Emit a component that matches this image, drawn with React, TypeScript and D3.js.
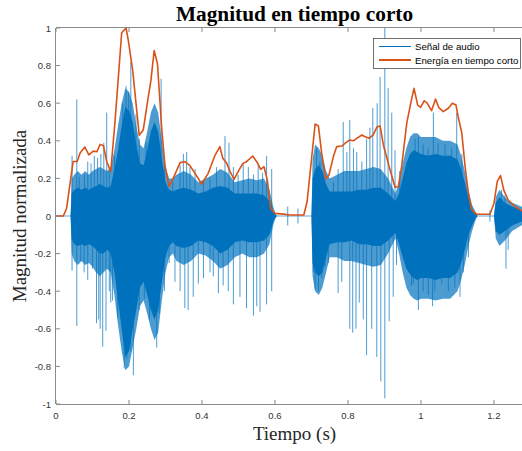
import React from "react";
import * as d3 from "d3";

const title = "Magnitud en tiempo corto";
const xLabel = "Tiempo (s)";
const yLabel = "Magnitud normalizada";
const legendLabels = ["Señal de audio", "Energía en tiempo corto"];
const xTicks = [0, 0.2, 0.4, 0.6, 0.8, 1, 1.2];
const yTicks = [-1, -0.8, -0.6, -0.4, -0.2, 0, 0.2, 0.4, 0.6, 0.8, 1];
const xMax = 1.307;

// Envelope sample times of the audio signal
const envT = [0, 0.04, 0.043, 0.05, 0.06, 0.07, 0.08, 0.09, 0.1, 0.11, 0.12, 0.13, 0.14, 0.15, 0.16, 0.17, 0.18, 0.19, 0.2, 0.21, 0.22, 0.23, 0.24, 0.25, 0.26, 0.27, 0.28, 0.29, 0.3, 0.31, 0.32, 0.33, 0.35, 0.37, 0.39, 0.41, 0.43, 0.45, 0.47, 0.49, 0.51, 0.53, 0.55, 0.57, 0.585, 0.595, 0.6, 0.605, 0.7, 0.703, 0.71, 0.72, 0.73, 0.74, 0.75, 0.77, 0.79, 0.81, 0.83, 0.85, 0.87, 0.89, 0.91, 0.93, 0.94, 0.95, 0.96, 0.97, 0.98, 0.99, 1.0, 1.02, 1.04, 1.06, 1.08, 1.1, 1.11, 1.12, 1.13, 1.14, 1.15, 1.155, 1.2, 1.205, 1.215, 1.23, 1.25, 1.275, 1.307];
// Dense core envelope
const envUp = [0, 0, 0.12, 0.14, 0.15, 0.14, 0.15, 0.14, 0.15, 0.16, 0.17, 0.16, 0.15, 0.16, 0.25, 0.35, 0.48, 0.58, 0.56, 0.5, 0.38, 0.28, 0.27, 0.35, 0.45, 0.5, 0.45, 0.3, 0.18, 0.14, 0.13, 0.14, 0.15, 0.14, 0.12, 0.13, 0.15, 0.16, 0.15, 0.12, 0.12, 0.12, 0.12, 0.11, 0.08, 0.03, 0.01, 0, 0, 0.2, 0.25, 0.27, 0.24, 0.17, 0.13, 0.13, 0.13, 0.13, 0.14, 0.14, 0.15, 0.15, 0.12, 0.08, 0.12, 0.2, 0.28, 0.33, 0.35, 0.34, 0.33, 0.32, 0.33, 0.32, 0.32, 0.3, 0.25, 0.18, 0.1, 0.04, 0.01, 0, 0, 0.07, 0.1, 0.07, 0.05, 0.03, 0.02];
const envLo = [0, 0, -0.12, -0.15, -0.16, -0.15, -0.16, -0.15, -0.16, -0.18, -0.2, -0.2, -0.18, -0.2, -0.3, -0.45, -0.6, -0.75, -0.72, -0.6, -0.5, -0.38, -0.35, -0.42, -0.5, -0.55, -0.5, -0.35, -0.22, -0.16, -0.14, -0.16, -0.17, -0.16, -0.13, -0.14, -0.16, -0.2, -0.18, -0.14, -0.13, -0.14, -0.14, -0.13, -0.1, -0.03, -0.01, 0, 0, -0.25, -0.3, -0.32, -0.3, -0.22, -0.15, -0.14, -0.14, -0.13, -0.15, -0.15, -0.16, -0.16, -0.13, -0.09, -0.15, -0.22, -0.28, -0.31, -0.33, -0.34, -0.33, -0.33, -0.34, -0.33, -0.33, -0.3, -0.25, -0.18, -0.1, -0.05, -0.01, 0, 0, -0.08, -0.1, -0.08, -0.05, -0.03, -0.02];
// Outer (lighter, textured) envelope
const fringeUp = [0, 0, 0.2, 0.22, 0.24, 0.22, 0.24, 0.22, 0.24, 0.25, 0.26, 0.25, 0.24, 0.26, 0.35, 0.48, 0.6, 0.68, 0.66, 0.6, 0.48, 0.38, 0.36, 0.45, 0.55, 0.6, 0.55, 0.4, 0.26, 0.2, 0.2, 0.22, 0.24, 0.22, 0.18, 0.2, 0.22, 0.25, 0.23, 0.18, 0.19, 0.2, 0.19, 0.2, 0.14, 0.05, 0.02, 0, 0, 0.3, 0.38, 0.36, 0.32, 0.24, 0.2, 0.22, 0.24, 0.24, 0.24, 0.25, 0.26, 0.25, 0.2, 0.12, 0.18, 0.28, 0.36, 0.42, 0.44, 0.44, 0.42, 0.42, 0.42, 0.4, 0.4, 0.38, 0.32, 0.24, 0.14, 0.06, 0.02, 0, 0, 0.1, 0.14, 0.1, 0.07, 0.05, 0.03];
const fringeLo = [0, 0, -0.2, -0.24, -0.26, -0.24, -0.26, -0.25, -0.27, -0.3, -0.32, -0.3, -0.28, -0.3, -0.42, -0.58, -0.72, -0.82, -0.8, -0.7, -0.6, -0.48, -0.45, -0.52, -0.6, -0.66, -0.62, -0.45, -0.3, -0.22, -0.2, -0.24, -0.26, -0.24, -0.2, -0.21, -0.24, -0.28, -0.26, -0.22, -0.2, -0.22, -0.22, -0.2, -0.15, -0.05, -0.02, 0, 0, -0.32, -0.4, -0.42, -0.38, -0.3, -0.22, -0.22, -0.24, -0.24, -0.25, -0.26, -0.27, -0.26, -0.2, -0.12, -0.2, -0.3, -0.38, -0.42, -0.44, -0.45, -0.44, -0.44, -0.45, -0.44, -0.44, -0.4, -0.34, -0.26, -0.16, -0.08, -0.02, 0, 0, -0.12, -0.16, -0.13, -0.08, -0.05, -0.03];

// Isolated peaks of the audio signal
const spikeUpT = [0.044, 0.057, 0.064, 0.078, 0.087, 0.096, 0.105, 0.114, 0.123, 0.131, 0.139, 0.146, 0.16, 0.183, 0.192, 0.199, 0.205, 0.219, 0.228, 0.247, 0.26, 0.274, 0.288, 0.297, 0.32, 0.34, 0.349, 0.358, 0.367, 0.381, 0.404, 0.422, 0.44, 0.463, 0.474, 0.486, 0.499, 0.513, 0.527, 0.541, 0.554, 0.566, 0.577, 0.591, 0.635, 0.663, 0.714, 0.723, 0.732, 0.76, 0.773, 0.787, 0.797, 0.805, 0.815, 0.824, 0.838, 0.851, 0.86, 0.868, 0.88, 0.888, 0.901, 0.91, 0.92, 0.929, 0.942, 0.97, 0.984, 0.993, 1.006, 1.02, 1.034, 1.047, 1.066, 1.084, 1.098, 1.112, 1.189, 1.221, 1.23];
const spikeUpV = [0.32, 0.62, 0.21, 0.22, 0.29, 0.28, 0.32, 0.31, 0.33, 0.39, 0.55, 0.24, 0.32, 0.6, 0.69, 0.66, 0.82, 0.54, 0.41, 0.39, 0.42, 0.47, 0.73, 0.3, 0.18, 0.27, 0.33, 0.34, 0.26, 0.25, 0.19, 0.2, 0.26, 0.425, 0.39, 0.26, 0.22, 0.28, 0.26, 0.22, 0.27, 0.23, 0.32, 0.25, 0.05, 0.04, 0.36, 0.29, 0.22, 0.18, 0.25, 0.5, 0.34, 0.51, 0.36, 0.34, 0.29, 0.41, 0.47, 0.575, 0.6, 0.74, 1.0, 0.68, 0.55, 0.35, 0.24, 0.29, 0.41, 0.42, 0.38, 0.36, 0.55, 0.39, 0.38, 0.36, 0.55, 0.33, 0.03, 0.14, 0.11];
const spikeDownT = [0.044, 0.057, 0.068, 0.077, 0.087, 0.1, 0.111, 0.117, 0.121, 0.128, 0.137, 0.146, 0.15, 0.155, 0.169, 0.187, 0.194, 0.205, 0.212, 0.228, 0.242, 0.256, 0.276, 0.283, 0.297, 0.31, 0.326, 0.34, 0.353, 0.362, 0.376, 0.39, 0.404, 0.422, 0.431, 0.445, 0.458, 0.472, 0.486, 0.504, 0.522, 0.541, 0.55, 0.559, 0.577, 0.591, 0.635, 0.663, 0.705, 0.71, 0.719, 0.728, 0.737, 0.746, 0.773, 0.783, 0.805, 0.813, 0.822, 0.831, 0.842, 0.851, 0.865, 0.879, 0.89, 0.901, 0.913, 0.924, 0.933, 0.965, 0.974, 0.979, 0.993, 1.006, 1.02, 1.032, 1.038, 1.057, 1.075, 1.093, 1.107, 1.116, 1.13, 1.189, 1.233, 1.239];
const spikeDownV = [-0.29, -0.585, -0.24, -0.3, -0.34, -0.28, -0.57, -0.55, -0.6, -0.695, -0.61, -0.4, -0.46, -0.45, -0.54, -0.81, -0.76, -0.72, -0.846, -0.5, -0.44, -0.55, -0.7, -0.52, -0.4, -0.25, -0.35, -0.4, -0.49, -0.5, -0.43, -0.36, -0.33, -0.3, -0.32, -0.41, -0.37, -0.4, -0.47, -0.43, -0.49, -0.53, -0.48, -0.51, -0.47, -0.4, -0.05, -0.04, -0.3, -0.39, -0.4, -0.33, -0.27, -0.25, -0.41, -0.35, -0.6, -0.62, -0.6, -0.46, -0.55, -0.74, -0.6, -0.75, -0.88, -0.97, -0.56, -0.43, -0.26, -0.24, -0.37, -0.36, -0.5, -0.4, -0.42, -0.48, -0.4, -0.36, -0.4, -0.38, -0.43, -0.3, -0.22, -0.03, -0.28, -0.18];

// Short-time energy curve
const energyT = [0, 0.02, 0.029, 0.047, 0.058, 0.066, 0.079, 0.09, 0.102, 0.112, 0.121, 0.13, 0.139, 0.15, 0.162, 0.18, 0.192, 0.198, 0.21, 0.228, 0.239, 0.253, 0.26, 0.269, 0.278, 0.29, 0.299, 0.31, 0.321, 0.34, 0.353, 0.367, 0.381, 0.399, 0.417, 0.436, 0.449, 0.457, 0.468, 0.477, 0.488, 0.499, 0.512, 0.522, 0.539, 0.55, 0.561, 0.57, 0.579, 0.588, 0.6, 0.623, 0.641, 0.679, 0.688, 0.71, 0.719, 0.728, 0.739, 0.748, 0.76, 0.769, 0.783, 0.792, 0.804, 0.815, 0.824, 0.838, 0.847, 0.858, 0.869, 0.88, 0.888, 0.897, 0.913, 0.929, 0.938, 0.947, 0.961, 0.972, 0.981, 0.991, 0.999, 1.009, 1.017, 1.029, 1.04, 1.049, 1.061, 1.075, 1.086, 1.096, 1.102, 1.112, 1.121, 1.13, 1.139, 1.153, 1.189, 1.2, 1.209, 1.218, 1.227, 1.239, 1.258, 1.276, 1.295];
const energyV = [0, 0, 0.04, 0.29, 0.29, 0.335, 0.367, 0.325, 0.345, 0.342, 0.381, 0.374, 0.29, 0.236, 0.51, 0.975, 1.0, 0.936, 0.777, 0.43, 0.457, 0.635, 0.72, 0.88, 0.81, 0.457, 0.262, 0.158, 0.2, 0.284, 0.289, 0.268, 0.227, 0.17, 0.227, 0.324, 0.369, 0.307, 0.28, 0.236, 0.195, 0.236, 0.28, 0.289, 0.319, 0.289, 0.248, 0.262, 0.191, 0.041, 0.014, 0.01, 0.005, 0.005, 0.076, 0.489, 0.479, 0.333, 0.197, 0.218, 0.316, 0.369, 0.372, 0.386, 0.404, 0.4, 0.413, 0.431, 0.422, 0.413, 0.431, 0.475, 0.479, 0.378, 0.262, 0.153, 0.156, 0.262, 0.493, 0.6, 0.679, 0.59, 0.578, 0.613, 0.6, 0.56, 0.622, 0.576, 0.555, 0.573, 0.6, 0.59, 0.528, 0.44, 0.262, 0.12, 0.032, 0.009, 0.009, 0.067, 0.183, 0.215, 0.138, 0.085, 0.05, 0.028, 0.02];

const W = 522;
const H = 451;
const BLUE = "#0072BD";
const ORANGE = "#D95319";
const AXIS = "#8a8a8a";
const TEXT = "#333333";

export default function App() {
  const x = d3.scaleLinear().domain([0, xMax]).range([56, 533]);
  const y = d3.scaleLinear().domain([-1, 1]).range([404, 28]);
  const idx = envT.map((_, i) => i);

  const fringe = d3
    .area<number>()
    .x((i) => x(envT[i]))
    .y0((i) => y(fringeLo[i]))
    .y1((i) => y(fringeUp[i]))(idx) as string;

  const core = d3
    .area<number>()
    .x((i) => x(envT[i]))
    .y0((i) => y(envLo[i]))
    .y1((i) => y(envUp[i]))(idx) as string;

  const energyPath = d3
    .line<number>()
    .x((i) => x(energyT[i]))
    .y((i) => y(energyV[i]))(energyT.map((_, i) => i)) as string;

  const [x0, x1] = x.range();
  const [yb, yt] = y.range();
  const sans = "'Liberation Sans', Arial, Helvetica, sans-serif";
  const serif = "'Liberation Serif', 'Times New Roman', serif";

  return (
    <svg
      width={W}
      height={H}
      style={{ position: "absolute", left: 0, top: 0, background: "#fff" }}
    >
      <defs>
        <clipPath id="plot">
          <rect x={x0} y={yt} width={x1 - x0} height={yb - yt} />
        </clipPath>
      </defs>
      <rect x={0} y={0} width={W} height={H} fill="#fff" />
      <g clipPath="url(#plot)">
        <line x1={x(0)} x2={x(xMax)} y1={y(0)} y2={y(0)} stroke={BLUE} strokeOpacity={0.6} strokeWidth={1} />
        <path d={fringe} fill={BLUE} fillOpacity={0.7} />
        <path d={core} fill={BLUE} />
        {spikeUpT.map((t, i) => (
          <line key={"u" + i} x1={x(t)} x2={x(t)} y1={y(0)} y2={y(spikeUpV[i])} stroke={BLUE} strokeOpacity={0.7} strokeWidth={1} />
        ))}
        {spikeDownT.map((t, i) => (
          <line key={"d" + i} x1={x(t)} x2={x(t)} y1={y(0)} y2={y(spikeDownV[i])} stroke={BLUE} strokeOpacity={0.7} strokeWidth={1} />
        ))}
        <path d={energyPath} fill="none" stroke={ORANGE} strokeWidth={1.6} strokeLinejoin="round" />
      </g>
      {/* axes frame */}
      <line x1={x0} x2={x1} y1={yb + 0.5} y2={yb + 0.5} stroke={AXIS} />
      <line x1={x0} x2={x1} y1={yt - 0.5} y2={yt - 0.5} stroke={AXIS} />
      <line x1={x0 - 0.5} x2={x0 - 0.5} y1={yt} y2={yb} stroke={AXIS} />
      {xTicks.map((t) => (
        <g key={"xt" + t}>
          <line x1={x(t)} x2={x(t)} y1={yb} y2={yb - 4} stroke={AXIS} />
          <line x1={x(t)} x2={x(t)} y1={yt} y2={yt + 4} stroke={AXIS} />
          <text x={x(t)} y={yb + 15} textAnchor="middle" fontFamily={sans} fontSize={9.5} fill={TEXT}>
            {String(t)}
          </text>
        </g>
      ))}
      {yTicks.map((v) => (
        <g key={"yt" + v}>
          <line x1={x0} x2={x0 + 4} y1={y(v)} y2={y(v)} stroke={AXIS} />
          <text x={x0 - 5} y={y(v) + 3.5} textAnchor="end" fontFamily={sans} fontSize={9.5} fill={TEXT}>
            {String(v)}
          </text>
        </g>
      ))}
      <text x={(x0 + x1) / 2} y={21} textAnchor="middle" fontFamily={serif} fontWeight="bold" fontSize={21.3} fill="#000">
        {title}
      </text>
      <text x={(x0 + x1) / 2} y={440} textAnchor="middle" fontFamily={serif} fontSize={19} fill="#262626">
        {xLabel}
      </text>
      <text
        transform={`translate(26, ${(yt + yb) / 2}) rotate(-90)`}
        textAnchor="middle"
        fontFamily={serif}
        fontSize={19}
        fill="#262626"
      >
        {yLabel}
      </text>
      {/* legend */}
      <g>
        <rect x={373.5} y={38.5} width={147} height={30} fill="#fff" stroke="#4d4d4d" strokeWidth={0.8} />
        <line x1={379} x2={411} y1={46.5} y2={46.5} stroke={BLUE} strokeWidth={1} />
        <line x1={379} x2={411} y1={60} y2={60} stroke={ORANGE} strokeWidth={2} />
        <text x={415} y={50} fontFamily={sans} fontSize={9.7} fill="#000">
          {legendLabels[0]}
        </text>
        <text x={415} y={63.5} fontFamily={sans} fontSize={9.7} fill="#000">
          {legendLabels[1]}
        </text>
      </g>
    </svg>
  );
}
